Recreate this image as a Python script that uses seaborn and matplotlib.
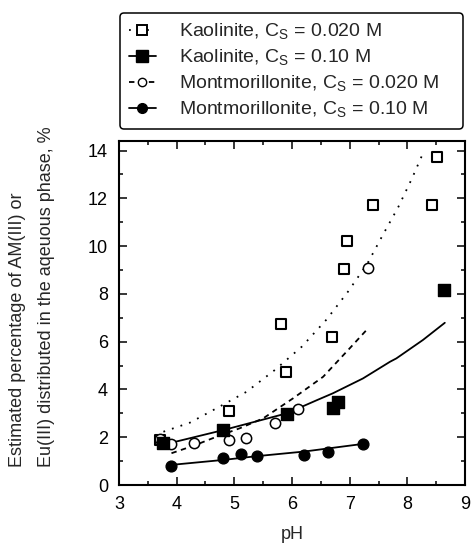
"""
Percentage of AM(III)/Eu(III) in the aqueous phase vs pH
for kaolinite and montmorillonite at two salt concentrations.
"""

import matplotlib
matplotlib.use("Agg")
import matplotlib.pyplot as plt
from matplotlib.lines import Line2D
from matplotlib.ticker import MultipleLocator
import seaborn as sns

# measured points
kao_lo_ph = [3.71, 4.91, 5.81, 5.89, 6.70, 6.90, 6.95, 7.40, 8.42, 8.51]
kao_lo_val = [1.88, 3.10, 6.74, 4.71, 6.21, 9.04, 10.2, 11.72, 11.72, 13.74]

kao_hi_ph = [3.76, 4.81, 5.91, 6.71, 6.80, 8.63]
kao_hi_val = [1.74, 2.30, 2.97, 3.21, 3.49, 8.15]

mont_lo_ph = [3.71, 3.90, 4.30, 4.91, 5.20, 5.70, 6.11, 7.31]
mont_lo_val = [1.91, 1.72, 1.77, 1.88, 1.98, 2.61, 3.17, 9.07]

mont_hi_ph = [3.90, 4.81, 5.11, 5.40, 6.21, 6.62, 7.23]
mont_hi_val = [0.81, 1.12, 1.28, 1.21, 1.26, 1.38, 1.72]

# model curves
kao_lo_fit_ph = [3.77, 4.23, 4.69, 5.21, 5.70, 6.17, 6.60, 6.97, 7.31, 7.58, 7.84, 8.08, 8.29]
kao_lo_fit_val = [2.23, 2.61, 3.21, 3.90, 4.81, 5.79, 6.93, 8.09, 9.28, 10.49, 11.62, 12.83, 13.99]

kao_hi_fit_ph = [3.74, 4.81, 5.91, 6.43, 6.71, 7.23, 7.70, 7.81, 8.27, 8.65]
kao_hi_fit_val = [1.67, 2.30, 3.00, 3.55, 3.84, 4.46, 5.16, 5.30, 6.07, 6.79]

mont_lo_fit_ph = [3.91, 4.30, 4.69, 5.10, 5.50, 6.02, 6.54, 7.00, 7.32]
mont_lo_fit_val = [1.33, 1.65, 2.02, 2.38, 2.79, 3.63, 4.53, 5.72, 6.56]

mont_hi_fit_ph = [3.90, 4.81, 5.40, 6.21, 7.23]
mont_hi_fit_val = [0.84, 1.05, 1.21, 1.40, 1.72]

labels = [
    r"Kaolinite, C$_\mathrm{S}$ = 0.020 M",
    r"Kaolinite, C$_\mathrm{S}$ = 0.10 M",
    r"Montmorillonite, C$_\mathrm{S}$ = 0.020 M",
    r"Montmorillonite, C$_\mathrm{S}$ = 0.10 M",
]

sns.set_style("ticks")
plt.rcParams["font.family"] = ["Liberation Sans", "DejaVu Sans"]
plt.rcParams["mathtext.fontset"] = "custom"
plt.rcParams["mathtext.rm"] = "Liberation Sans"

fig = plt.figure(figsize=(4.74, 5.5), dpi=100)
ax = fig.add_axes([119 / 474, 1 - 485 / 550, 346 / 474, 344 / 550])

dotted = (0, (1, 4))
dashed = (0, (3, 2.5))
lw = 1.3

sns.lineplot(x=kao_lo_fit_ph, y=kao_lo_fit_val, ax=ax, color="black",
             linewidth=lw, linestyle=dotted, estimator=None, zorder=2)
sns.lineplot(x=kao_hi_fit_ph, y=kao_hi_fit_val, ax=ax, color="black",
             linewidth=lw, estimator=None, zorder=2)
sns.lineplot(x=mont_lo_fit_ph, y=mont_lo_fit_val, ax=ax, color="black",
             linewidth=lw, linestyle=dashed, estimator=None, zorder=2)
sns.lineplot(x=mont_hi_fit_ph, y=mont_hi_fit_val, ax=ax, color="black",
             linewidth=lw, estimator=None, zorder=2)

sns.scatterplot(x=kao_lo_ph, y=kao_lo_val, ax=ax, marker="s", s=60,
                facecolor="white", edgecolor="black", linewidth=1.5, zorder=3)
sns.scatterplot(x=mont_lo_ph, y=mont_lo_val, ax=ax, marker="o", s=55,
                facecolor="white", edgecolor="black", linewidth=1.1, zorder=3)
sns.scatterplot(x=kao_hi_ph, y=kao_hi_val, ax=ax, marker="s", s=70,
                color="black", edgecolor="black", linewidth=1, zorder=4)
sns.scatterplot(x=mont_hi_ph, y=mont_hi_val, ax=ax, marker="o", s=60,
                color="black", edgecolor="black", linewidth=1, zorder=4)

ax.set_xlim(3, 9)
ax.set_ylim(0, 14.4)
ax.xaxis.set_major_locator(MultipleLocator(1))
ax.xaxis.set_minor_locator(MultipleLocator(0.5))
ax.yaxis.set_major_locator(MultipleLocator(2))
ax.yaxis.set_minor_locator(MultipleLocator(1))
ax.tick_params(which="both", direction="in", top=True, right=True,
               width=1.1, labelsize=13, colors="black")
ax.tick_params(which="major", length=6, pad=8)
ax.tick_params(which="minor", length=3)
for sp in ax.spines.values():
    sp.set_linewidth(1.5)
    sp.set_color("black")

ax.set_xlabel("pH", fontsize=13, labelpad=9)
ax.set_ylabel("")

fig.text(
    32 / 474, 1 - 467 / 550,
    "Estimated percentage of AM(III) or\n"
    "Eu(III) distributed in the aqeuous phase, %",
    rotation=90, ha="center", va="bottom", multialignment="left",
    fontsize=13, linespacing=1.95,
)

handles = [
    Line2D([], [], color="black", lw=lw, linestyle=dotted, marker="s",
           markersize=7, markerfacecolor="white", markeredgewidth=1.4),
    Line2D([], [], color="black", lw=lw, marker="s", markersize=8),
    Line2D([], [], color="black", lw=lw, linestyle=dashed, marker="o",
           markersize=6, markerfacecolor="white", markeredgewidth=1),
    Line2D([], [], color="black", lw=lw, marker="o", markersize=7),
]

leg = fig.legend(
    handles, labels,
    loc="upper left",
    bbox_to_anchor=(120 / 474, 1 - 128 / 550, 343 / 474, 115 / 550),
    mode="expand",
    borderaxespad=0,
    fontsize=14,
    handlelength=1.4,
    handletextpad=1.2,
    labelspacing=0.3,
    borderpad=0.45,
    fancybox=True,
    frameon=True,
    framealpha=1,
    edgecolor="black",
)
leg.get_frame().set_linewidth(1.1)

plt.savefig("out.png", dpi=100)
plt.close()
